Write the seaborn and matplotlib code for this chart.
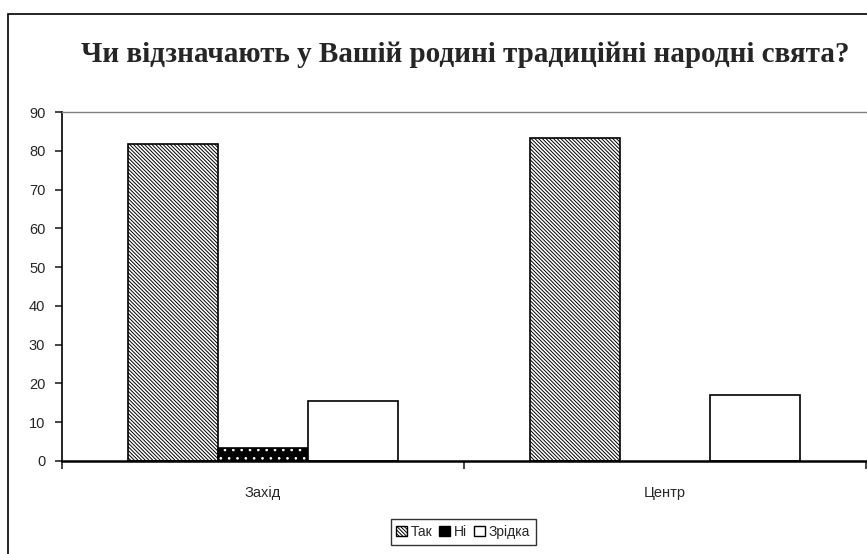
import matplotlib
matplotlib.use('Agg')
import matplotlib.pyplot as plt
import matplotlib.colors as mcolors
from matplotlib.patches import Patch, Rectangle
import seaborn as sns
import pandas as pd

# дані з діаграми
regions = ['Захід', 'Центр']
answers = ['Так', 'Ні', 'Зрідка']
tak = [81.7, 83.2]
ni = [3.3, 0]
ridko = [15.5, 16.9]
title = 'Чи відзначають у Вашій родині традиційні народні свята?'

df = pd.DataFrame({
    'Region': regions * 3,
    'Answer': [a for a in answers for _ in regions],
    'Value': tak + ni + ridko,
})

sns.set_style('white')
plt.rcParams['font.family'] = ['Liberation Sans', 'DejaVu Sans']
plt.rcParams['hatch.linewidth'] = 0.7

fig = plt.figure(figsize=(8.67, 5.54), dpi=100)
ax = fig.add_axes([62 / 867, 93 / 554, 804 / 867, 349 / 554])

sns.barplot(data=df, x='Region', y='Value', hue='Answer', order=regions,
            hue_order=answers, width=0.67, palette=['white', 'black', 'white'],
            edgecolor='black', linewidth=1.2, legend=False, ax=ax)

styles = {'Так': ('white', '\\' * 9, 'black'),
          'Ні': ('black', '..', 'white'),
          'Зрідка': ('white', '', 'black')}

for cont, ans in zip(ax.containers, answers):
    fc, hatch, hc = styles[ans]
    for bar in cont:
        bar.set_facecolor(fc)
        bar.set_hatch(hatch)
        try:
            bar.set_hatchcolor(hc)
        except AttributeError:
            bar._hatch_color = mcolors.to_rgba(hc)
        if bar.get_height() == 0:
            bar.set_visible(False)

ax.set_xlim(-0.5, 1.5)
ax.set_ylim(0, 90)
ax.set_yticks(range(0, 91, 10))
ax.set_xlabel('')
ax.set_ylabel('')

ax.spines['right'].set_visible(False)
ax.spines['top'].set_color('#808080')
ax.spines['top'].set_linestyle((0, (3, 1)))
ax.spines['top'].set_linewidth(1.0)
ax.spines['left'].set_linewidth(1.2)
ax.spines['bottom'].set_linewidth(1.8)
ax.spines['left'].set_color('black')
ax.spines['bottom'].set_color('black')

ax.tick_params(axis='y', direction='out', length=5, width=1.2, left=True,
               labelsize=10.5, pad=7)
ax.tick_params(axis='x', which='major', length=0, labelsize=10.5, pad=18)
ax.set_xticks([-0.5, 0.5, 1.5], minor=True)
ax.tick_params(axis='x', which='minor', direction='out', length=6, width=1.2, bottom=True)

fig.text(465 / 867, 1 - 55 / 554, title, ha='center', va='center', fontsize=21,
         fontweight='bold', fontfamily='Liberation Serif')

handles = [Patch(facecolor=styles[a][0], hatch=styles[a][1], edgecolor='black',
                 label=a) for a in answers]
leg = fig.legend(handles=handles, loc='center', bbox_to_anchor=(463 / 867, 1 - 532 / 554),
                 ncol=3, frameon=True, fontsize=10, handlelength=0.8, handleheight=0.8,
                 handletextpad=0.25, columnspacing=0.5, borderpad=0.4, fancybox=False)
leg.get_frame().set_edgecolor('black')
leg.get_frame().set_linewidth(1.0)

fig.patches.append(Rectangle((8 / 867, -0.1), 1.2, 1.1 - 14 / 554, transform=fig.transFigure,
                             fill=False, edgecolor='black', linewidth=1.2))

fig.savefig('out.png', dpi=100)
